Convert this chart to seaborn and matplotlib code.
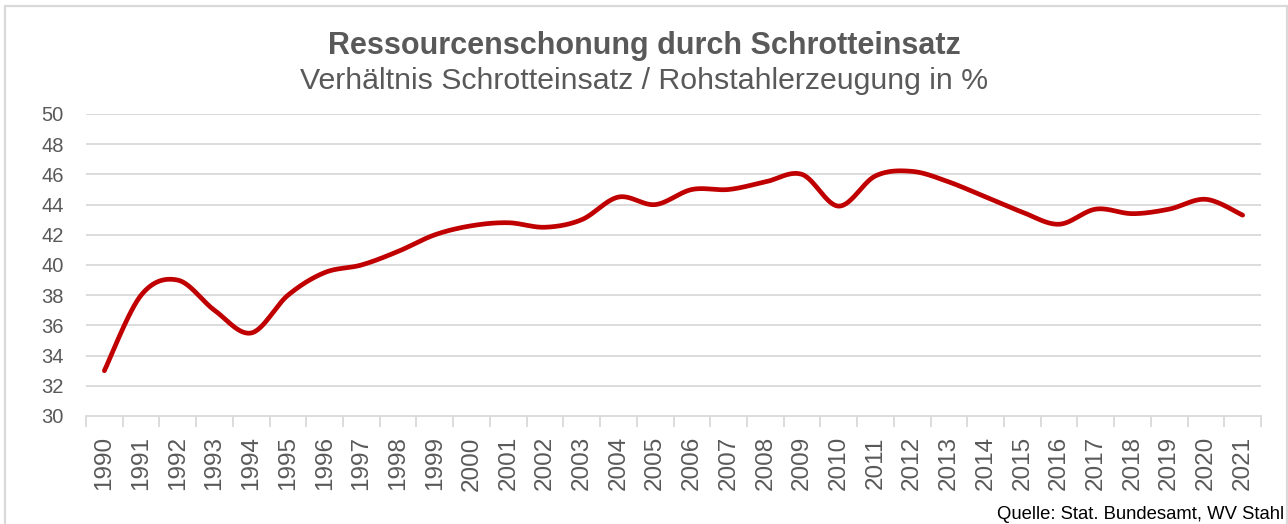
import numpy as np
import pandas as pd
import matplotlib
matplotlib.use("Agg")
import matplotlib.pyplot as plt
import seaborn as sns
from matplotlib.lines import Line2D

# ---- data ----
years = [str(y) for y in range(1990, 2022)]
ratio = [33.0, 38.0, 39.0, 37.0, 35.5, 38.0, 39.5, 40.0, 40.9, 42.0,
         42.6, 42.8, 42.5, 43.0, 44.5, 44.0, 45.0, 45.0, 45.5, 46.0,
         43.9, 45.9, 46.2, 45.5, 44.5, 43.5, 42.7, 43.7, 43.4, 43.7,
         44.35, 43.3]
yticks = list(range(30, 52, 2))
title = "Ressourcenschonung durch Schrotteinsatz"
subtitle = "Verhältnis Schrotteinsatz / Rohstahlerzeugung in %"
source = "Quelle: Stat. Bundesamt, WV Stahl"

sns.set_theme(style="white")
plt.rcParams["font.family"] = ["Liberation Sans", "DejaVu Sans"]

txt = "#595959"
grid = "#d9d9d9"

fig = plt.figure(figsize=(12.88, 5.24), dpi=100)
ax = fig.add_axes([86/1288, 1-416/524, (1261-86)/1288, (416-114)/524])

# Excel-like smoothed line (Bezier through every data point)
xpos = np.arange(len(years), dtype=float)
yv = np.array(ratio)
P = np.column_stack([xpos, yv])
Pe = np.vstack([P[0], P, P[-1]])
t = np.linspace(0, 1, 30)[:, None]
segs = []
for i in range(len(P) - 1):
    p0, p3 = P[i], P[i+1]
    c1 = p0 + (Pe[i+2] - Pe[i]) / 6.0
    c2 = p3 - (Pe[i+3] - Pe[i+1]) / 6.0
    b = (1-t)**3*p0 + 3*(1-t)**2*t*c1 + 3*(1-t)*t**2*c2 + t**3*p3
    segs.append(b if i == 0 else b[1:])
curve = np.vstack(segs)
df = pd.DataFrame({"x": curve[:, 0], "y": curve[:, 1]})
sns.lineplot(data=df, x="x", y="y", sort=False, estimator=None, ax=ax,
             color="#C00000", linewidth=3.4, solid_capstyle="round")

ax.set_xlim(-0.5, len(years) - 0.5)
ax.set_ylim(30, 50)
ax.set_yticks(yticks)
ax.set_yticklabels([str(v) for v in yticks])
ax.set_xticks(xpos)
ax.set_xticklabels(years, rotation=90)
ax.set_xticks(np.arange(-0.5, len(years), 1.0), minor=True)
ax.set_xlabel("")
ax.set_ylabel("")

for v in yticks[1:]:
    ax.axhline(v, color=grid, linewidth=1.3, zorder=0)

for s in ["top", "right", "left"]:
    ax.spines[s].set_visible(False)
ax.spines["bottom"].set_color(grid)
ax.spines["bottom"].set_linewidth(1.3)

ax.tick_params(axis="x", which="major", length=0, pad=14.5, labelsize=17.5, labelcolor=txt)
ax.tick_params(axis="x", which="minor", length=8, width=1.3, color=grid, bottom=True)
ax.tick_params(axis="y", length=0, pad=16, labelsize=14.5, labelcolor=txt)

fig.text(0.5, 1-54/524, title, ha="center", va="baseline", fontsize=22,
         fontweight="bold", color=txt)
fig.text(0.5, 1-89/524, subtitle, ha="center", va="baseline", fontsize=21.8,
         color=txt)
fig.text(1284/1288, 1-519/524, source, ha="right", va="baseline",
         fontsize=13.3, color="#000000")

# outer frame
fig.add_artist(Line2D([5/1288, 5/1288], [0, 1-6/524], transform=fig.transFigure, color=grid, linewidth=1.6))
fig.add_artist(Line2D([5/1288, 1287/1288], [1-6/524, 1-6/524], transform=fig.transFigure, color=grid, linewidth=1.6))
fig.add_artist(Line2D([1287/1288, 1287/1288], [0, 1-6/524], transform=fig.transFigure, color=grid, linewidth=1.6))

fig.savefig("out.png", dpi=100, facecolor="white")
